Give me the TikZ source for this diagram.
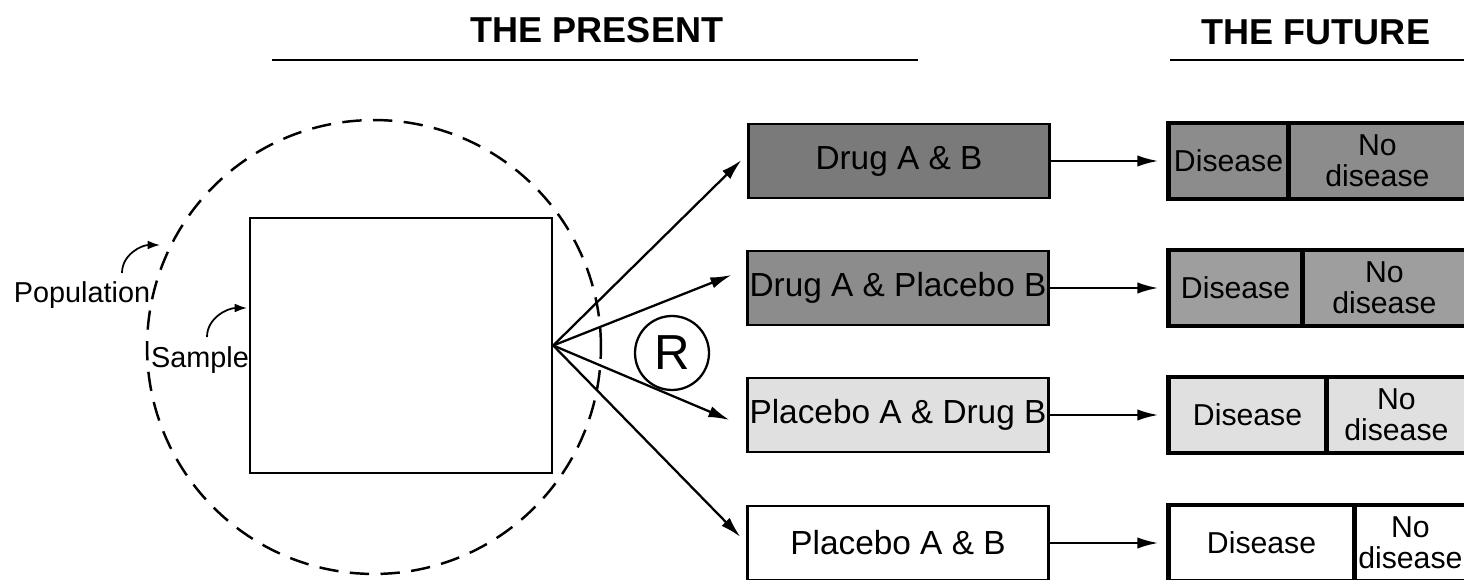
\documentclass[tikz,border=0pt]{standalone}
\usepackage{fontspec}
\setmainfont{Liberation Sans}
\usetikzlibrary{arrows.meta,calc}

\begin{document}
\begin{tikzpicture}[x=0.02cm, y=-0.02cm,
		fleche/.style={-{Latex[length=12pt,width=6.5pt]}, line width=1.3pt},
		courbe/.style={-{Latex[length=7pt,width=5pt]}, line width=1pt},
		traitement/.style={draw, line width=1.2pt, minimum width=6.02cm, minimum height=1.48cm, inner sep=0pt, font=\fontsize{19}{21}\selectfont},
		issue/.style={draw, line width=1.9pt, minimum width=6.04cm, minimum height=1.52cm, inner sep=0pt},
		maladie/.style={draw, line width=2.5pt, minimum height=1.52cm, inner sep=0pt, anchor=west, font=\fontsize{17.2}{18}\selectfont},
		sansmaladie/.style={align=center, inner sep=0pt, font=\fontsize{17.2}{17.5}\selectfont},
		titre/.style={font=\fontsize{20.5}{22}\selectfont\bfseries},
		legende/.style={inner sep=0pt, font=\fontsize{16.4}{18}\selectfont}]

				\clip (0,0) rectangle (1464,580);

				% Titres
				\node[titre] (present) at (597,30) {THE PRESENT};
				\node[titre] (future) at (1316,32) {THE FUTURE};
				\draw[line width=1.2pt] (272,60) -- (918,60);
				\draw[line width=1.2pt] (1170,60) -- (1470,60);

				% Population et echantillon
				\draw[dash pattern=on 11pt off 6.5pt, line width=1.4pt] (374,347) circle (4.54cm);
				\node[draw, line width=1.4pt, minimum width=6.04cm, minimum height=5.1cm] (sample) at (401,345.5) {};
				\node[legende] (poplabel) at (82,295) {Population};
				\node[legende] (samplabel) at (200,360) {Sample};
				\coordinate (popdebut) at (122,273);
				\coordinate (popfin) at (160,245);
				\coordinate (sampdebut) at (207,337);
				\coordinate (sampfin) at (247,308);
				\draw[courbe] (popdebut) to[out=90, in=180] (popfin);
				\draw[courbe] (sampdebut) to[out=90, in=180] (sampfin);

				% Randomisation
				\node[draw, circle, line width=1.3pt, minimum size=1.48cm, inner sep=0pt, font=\fontsize{28}{28}\selectfont] (R) at (672,353) {R};

				% Traitements
				\node[traitement, fill=black!52] (t1) at (899,161) {Drug A \& B};
				\node[traitement, fill=black!45] (t2) at (898,288) {Drug A \& Placebo B};
				\node[traitement, fill=black!12] (t3) at (898,415) {Placebo A \& Drug B};
				\node[traitement, fill=white] (t4) at (898,543) {Placebo A \& B};

				\foreach \t/\dx/\dy in {t1/-6/-1, t2/-15/-13, t3/-17/5, t4/-6/-6}
				\draw[fleche] (sample.east) -- ($(\t.west)+(\dx,\dy)$);

				% Avenir
				\foreach \i/\y/\w/\col in {1/161/120/black!45, 2/288/134/black!38, 3/415/158/black!12, 4/543/186/white} {
					\node[issue, fill=\col] (f\i) at (1319,\y) {};
					\node[maladie, fill=\col, minimum width=\w*0.02cm] (d\i) at (f\i.west) {Disease};
					\node[sansmaladie] (n\i) at ($(d\i.east)!0.5!(1464,\y)$) {No\\disease};
					\draw[fleche] (t\i.east) -- ($(f\i.west)+(-8,0)$);
				}
			\end{tikzpicture}
\end{document}
